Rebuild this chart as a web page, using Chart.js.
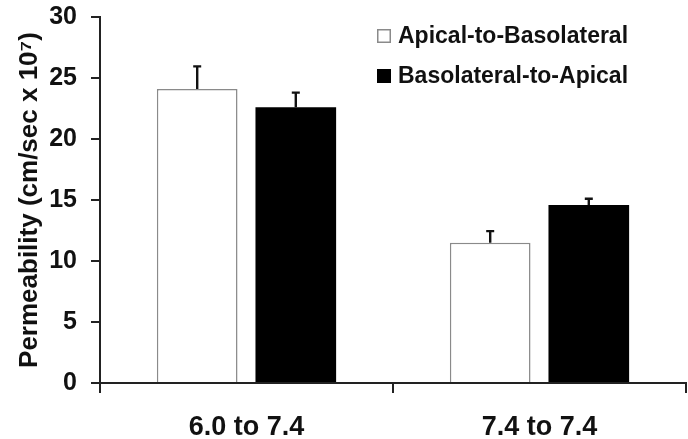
<!DOCTYPE html>
<html>
<head>
<meta charset="utf-8">
<script src="https://cdn.jsdelivr.net/npm/chart.js@4/dist/chart.umd.min.js"></script>
<style>
  html, body { margin: 0; padding: 0; background: #ffffff; }
  #wrap { width: 688px; height: 439px; position: relative; }
</style>
</head>
<body>
<div id="wrap"><canvas id="c" width="688" height="439"></canvas></div>
<script>
const categories = ['6.0 to 7.4', '7.4 to 7.4'];
const seriesNames = ['Apical-to-Basolateral', 'Basolateral-to-Apical'];
const apicalToBasolateral = [24.1, 11.5];
const apicalToBasolateralErr = [1.85, 0.95];
const basolateralToApical = [22.6, 14.6];
const basolateralToApicalErr = [1.2, 0.5];
const yTickValues = [0, 5, 10, 15, 20, 25, 30];
const yTitle = 'Permeability (cm/sec x 10\u2077)';

const FONT = "'Liberation Sans', Arial, sans-serif";
const errors = [apicalToBasolateralErr, basolateralToApicalErr];

const errorBarPlugin = {
  id: 'errorBars',
  afterDatasetsDraw(chart) {
    const ctx = chart.ctx;
    const yScale = chart.scales.y;
    chart.data.datasets.forEach((ds, di) => {
      const meta = chart.getDatasetMeta(di);
      meta.data.forEach((el, i) => {
        const top = yScale.getPixelForValue(ds.data[i] + errors[di][i]);
        ctx.save();
        ctx.strokeStyle = '#111';
        ctx.lineWidth = 2.4;
        ctx.beginPath();
        ctx.moveTo(el.x, el.y);
        ctx.lineTo(el.x, top);
        ctx.moveTo(el.x - 4, top);
        ctx.lineTo(el.x + 4, top);
        ctx.stroke();
        ctx.restore();
      });
    });
  }
};

const legendPlugin = {
  id: 'insideLegend',
  afterDraw(chart) {
    const ctx = chart.ctx;
    const x0 = 377, ys = [36, 76];
    chart.data.datasets.forEach((ds, i) => {
      const y = ys[i];
      ctx.save();
      ctx.fillStyle = ds.backgroundColor;
      ctx.fillRect(x0, y - 7, 14, 14);
      ctx.strokeStyle = ds.borderColor;
      ctx.lineWidth = 1.5;
      ctx.strokeRect(x0 + 0.75, y - 6.25, 12.5, 12.5);
      ctx.fillStyle = '#111';
      ctx.font = 'bold 23px ' + FONT;
      ctx.textBaseline = 'middle';
      ctx.fillText(ds.label, x0 + 21, y + 1);
      ctx.restore();
    });
  }
};

new Chart(document.getElementById('c'), {
  type: 'bar',
  data: {
    labels: categories,
    datasets: [
      {
        label: seriesNames[0],
        data: apicalToBasolateral,
        backgroundColor: '#ffffff',
        borderColor: '#8a8a8a',
        borderWidth: 1.5,
        borderSkipped: 'bottom'
      },
      {
        label: seriesNames[1],
        data: basolateralToApical,
        backgroundColor: '#000000',
        borderColor: '#000000',
        borderWidth: 0
      }
    ]
  },
  options: {
    responsive: false,
    animation: false,
    devicePixelRatio: 1,
    categoryPercentage: 0.673,
    barPercentage: 0.818,
    layout: { padding: { top: 17, right: 2, left: 0, bottom: 0 } },
    plugins: {
      legend: { display: false },
      tooltip: { enabled: false }
    },
    scales: {
      x: {
        offset: true,
        grid: {
          offset: true,
          drawOnChartArea: false,
          drawTicks: true,
          tickLength: 10,
          color: '#222',
          lineWidth: 2
        },
        border: { display: true, color: '#222', width: 2 },
        ticks: {
          color: '#111',
          font: { family: FONT, size: 27, weight: 'bold' },
          padding: 18,
          maxRotation: 0
        },
        afterFit(scale) { scale.height = 56; }
      },
      y: {
        min: 0,
        max: 30,
        afterBuildTicks(scale) { scale.ticks = yTickValues.map(v => ({ value: v })); },
        grid: {
          drawOnChartArea: false,
          drawTicks: true,
          tickLength: 9,
          color: '#222',
          lineWidth: 2
        },
        border: { display: true, color: '#222', width: 2 },
        ticks: {
          color: '#111',
          font: { family: FONT, size: 25, weight: 'bold' },
          padding: 14
        },
        title: {
          display: true,
          text: yTitle,
          color: '#111',
          font: { family: FONT, size: 26, weight: 'bold' },
          padding: { top: 14, bottom: 0 }
        },
        afterFit(scale) {
          scale.width = 100;
          scale.paddingTop = 0;
          scale.paddingBottom = 0;
        }
      }
    }
  },
  plugins: [errorBarPlugin, legendPlugin]
});
</script>
</body>
</html>
